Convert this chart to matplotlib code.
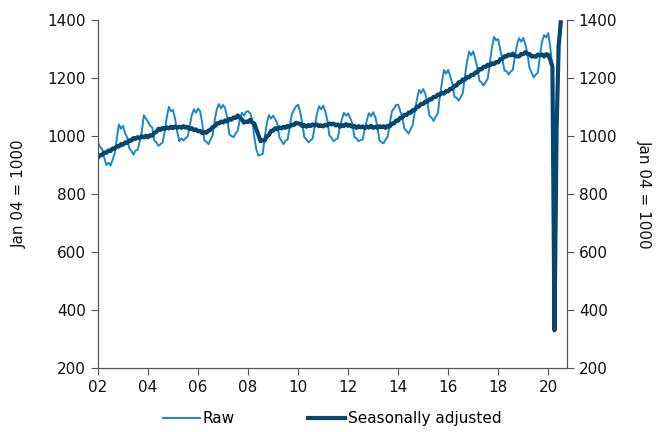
import matplotlib.pyplot as plt
import numpy as np

plt.rcParams['font.family'] = ['DejaVu Sans']

# monthly index values, Jan..Dec per year (Jan 04 = 1000)
years = list(range(2002, 2021))

raw = [
    [978, 962, 955, 925, 900, 908, 898, 918, 940, 990, 1040, 1025],      # 2002
    [1035, 1010, 995, 958, 948, 936, 950, 952, 980, 1015, 1072, 1060],   # 2003
    [1050, 1035, 1030, 985, 978, 966, 972, 978, 1015, 1065, 1101, 1085], # 2004
    [1090, 1058, 1015, 982, 992, 984, 993, 998, 1035, 1072, 1092, 1080],
    [1095, 1085, 1045, 985, 980, 972, 988, 1002, 1055, 1092, 1110, 1095],
    [1107, 1096, 1062, 1006, 1000, 996, 1008, 1018, 1055, 1080, 1070, 1083],
    [1086, 1078, 1058, 995, 952, 932, 936, 938, 995, 1045, 1072, 1060],
    [1070, 1058, 1044, 996, 984, 972, 984, 988, 1035, 1075, 1090, 1102],
    [1108, 1082, 1045, 996, 988, 978, 985, 992, 1035, 1075, 1103, 1092],
    [1105, 1086, 1055, 1002, 994, 982, 988, 992, 1030, 1058, 1080, 1070],
    [1078, 1062, 1044, 996, 992, 982, 986, 988, 1025, 1055, 1079, 1068],
    [1082, 1066, 1035, 986, 978, 975, 988, 998, 1045, 1085, 1095, 1107],
    [1108, 1086, 1064, 1025, 1018, 1008, 1024, 1038, 1085, 1125, 1159, 1148],
    [1162, 1146, 1115, 1070, 1064, 1052, 1066, 1078, 1135, 1185, 1228, 1215],
    [1228, 1205, 1180, 1135, 1132, 1122, 1134, 1148, 1205, 1255, 1291, 1278],
    [1292, 1266, 1235, 1190, 1184, 1174, 1186, 1198, 1255, 1305, 1342, 1330],
    [1334, 1296, 1265, 1225, 1224, 1212, 1222, 1228, 1275, 1315, 1337, 1325],
    [1338, 1316, 1285, 1235, 1219, 1202, 1212, 1218, 1275, 1325, 1348, 1340],
    [1355, 1305, 1235, 330, 1040, 1305, 1388],                           # 2020
]

sa = [
    [926, 934, 935, 943, 942, 950, 948, 957, 956, 965, 964, 972],
    [970, 978, 976, 985, 984, 993, 990, 996, 992, 999, 995, 1001],
    [996, 1003, 1001, 1011, 1014, 1025, 1021, 1028, 1024, 1030, 1026, 1032],
    [1027, 1033, 1028, 1032, 1028, 1034, 1029, 1031, 1024, 1027, 1020, 1023],
    [1016, 1018, 1010, 1013, 1011, 1019, 1021, 1031, 1033, 1044, 1043, 1050],
    [1046, 1054, 1050, 1059, 1056, 1064, 1062, 1071, 1063, 1058, 1046, 1050],
    [1048, 1056, 1046, 1043, 1022, 1003, 982, 986, 985, 999, 1003, 1018],
    [1018, 1027, 1023, 1030, 1026, 1032, 1028, 1035, 1032, 1039, 1038, 1046],
    [1043, 1042, 1034, 1038, 1032, 1038, 1034, 1040, 1036, 1040, 1034, 1037],
    [1033, 1039, 1036, 1043, 1040, 1043, 1036, 1040, 1032, 1038, 1034, 1041],
    [1035, 1038, 1032, 1035, 1028, 1034, 1030, 1033, 1027, 1033, 1029, 1035],
    [1028, 1032, 1028, 1034, 1030, 1034, 1028, 1035, 1033, 1043, 1043, 1053],
    [1053, 1063, 1063, 1073, 1072, 1081, 1080, 1089, 1090, 1101, 1102, 1111],
    [1110, 1119, 1118, 1127, 1126, 1135, 1134, 1143, 1142, 1149, 1146, 1155],
    [1154, 1163, 1163, 1173, 1174, 1185, 1185, 1195, 1194, 1203, 1202, 1211],
    [1210, 1219, 1220, 1231, 1230, 1239, 1238, 1246, 1243, 1251, 1248, 1255],
    [1254, 1265, 1266, 1275, 1274, 1281, 1278, 1284, 1276, 1275, 1274, 1283],
    [1282, 1289, 1283, 1283, 1274, 1275, 1273, 1281, 1278, 1281, 1274, 1282],
    [1280, 1262, 1240, 330, 1020, 1310, 1392],
]

xticks = [2002, 2004, 2006, 2008, 2010, 2012, 2014, 2016, 2018, 2020]
xticklabels = ["02", "04", "06", "08", "10", "12", "14", "16", "18", "20"]
yticks = [200, 400, 600, 800, 1000, 1200, 1400]

# decimal year for each month
t = []
raw_v = []
sa_v = []
for i, y in enumerate(years):
    for m in range(len(raw[i])):
        t.append(y + m / 12)
        raw_v.append(raw[i][m])
        sa_v.append(sa[i][m])

fig = plt.figure(figsize=(6.66, 4.32), dpi=100)
ax = fig.add_axes([98/666, 1-368/432, (567-98)/666, 348/432])

ax.plot(t, raw_v, color="#1a88c9", lw=1.4, label="Raw")
ax.plot(t, sa_v, color="#07476f", lw=3.0, label="Seasonally adjusted")

ax.set_xlim(2002, 2020.75)
ax.set_ylim(200, 1400)
ax.set_xticks(xticks)
ax.set_xticklabels(xticklabels)
ax.set_yticks(yticks)

ax2 = ax.twinx()
ax2.set_ylim(200, 1400)
ax2.set_yticks(yticks)

for a in (ax, ax2):
    a.spines['top'].set_visible(False)
    for s in a.spines.values():
        s.set_color("#555555")
    a.tick_params(colors="#555555", labelcolor="#111111", labelsize=11, length=5, direction="out")

ax.set_ylabel("Jan 04 = 1000", fontsize=11, color="#111111", labelpad=15)
ax2.set_ylabel("Jan 04 = 1000", fontsize=11, color="#111111", rotation=270, labelpad=25)

ax.legend(loc="upper center", bbox_to_anchor=(0.5, -0.085), ncol=2, frameon=False,
          fontsize=11, handlelength=2.4, handletextpad=0.2, columnspacing=4.8)

plt.savefig("out.png", dpi=100)
